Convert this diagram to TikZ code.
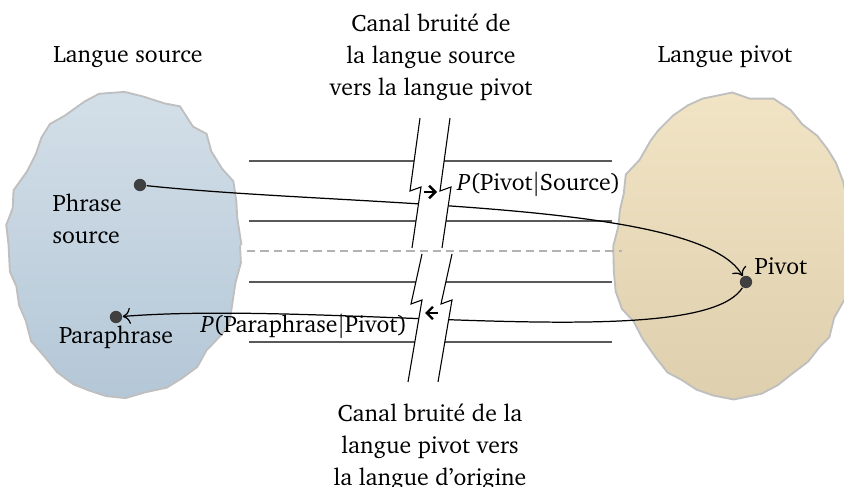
\documentclass[tikz,border=0pt]{standalone}
\usepackage[T1]{fontenc}
\usepackage{charter}
\usetikzlibrary{decorations.pathmorphing,arrows.meta}

\definecolor{srctop}{RGB}{211,223,232}
\definecolor{srcbot}{RGB}{180,199,215}
\definecolor{pivtop}{RGB}{241,228,196}
\definecolor{pivbot}{RGB}{222,207,174}

\tikzset{
  blob/.style={draw=black!25, line width=0.6pt, decorate,
    decoration={random steps, segment length=6pt, amplitude=1.3pt}},
  point/.style={circle, fill=black!75, inner sep=0pt, minimum size=4pt},
  chan/.style={draw=black!65, line width=0.35pt},
  wall/.style={fill=white, draw=none},
  wallside/.style={line width=0.35pt},
}

\begin{document}
\begin{tikzpicture}[x=0.324pt, y=-0.324pt, font=\fontsize{7.7}{10.4}\selectfont]
	\useasboundingbox (0,0) rectangle (844,487);
	\pgfmathsetseed{7}
	% les deux langues
	\shade[blob, top color=srctop, bottom color=srcbot] (125,245) ellipse [x radius=115, y radius=150];
	\shade[blob, top color=pivtop, bottom color=pivbot] (733,246) ellipse [x radius=118, y radius=150];

	\node (lsrc) at (128,57) {Langue source};
	\node (lpiv) at (725,57) {Langue pivot};
	\node[align=center] (chaut) at (431,57) {Canal bruité de\\la langue source\\vers la langue pivot};
	\node[align=center] (cbas) at (430,447) {Canal bruité de la\\langue pivot vers\\la langue d'origine};

	% canal
	\foreach \y in {161,221,282,342}
		\draw[chan] (249,\y) -- (612,\y);
	\draw[black!30, dash pattern=on 2.7pt off 1.6pt] (247,251) -- (622,251);

	\node[point] (src) at (140,185) {};
	\node[point] (para) at (116,317) {};
	\node[point] (piv) at (746,282) {};
	\node[align=left, anchor=west, inner sep=0pt] (tsrc) at (52,219) {Phrase\\source};
	\node (tpara) at (116,337) {Paraphrase};
	\node[anchor=west, inner sep=0pt] (tpiv) at (754,266) {Pivot};

	\draw[-{To}] (src) .. controls (350,207) and (700,200) .. (piv);
	\draw[-{To}] (piv) .. controls (700,355) and (330,300) .. (para);

	\node (pps) at (539,184) {\textit{P}(Pivot$|$Source)};
	\node (ppp) at (304,326) {\textit{P}(Paraphrase$|$Pivot)};

	% la coupure
	\fill[wall] (420,118) -- (410,191) -- (421,187) -- (412,248) -- (442,248) -- (451,187) -- (440,191) -- (450,118) -- cycle;
	\draw[wallside] (420,118) -- (410,191) -- (421,187) -- (412,248);
	\draw[wallside] (450,118) -- (440,191) -- (451,187) -- (442,248);
	\fill[wall] (422,254) -- (411,304) -- (422,300) -- (408,382) -- (438,382) -- (452,300) -- (441,304) -- (452,254) -- cycle;
	\draw[wallside] (422,254) -- (411,304) -- (422,300) -- (408,382);
	\draw[wallside] (452,254) -- (441,304) -- (452,300) -- (438,382);
	\draw[-{Straight Barb[length=2pt]}, thick] (424,192) -- (437,192);
	\draw[-{Straight Barb[length=2pt]}, thick] (438,313) -- (425,313);
\end{tikzpicture}
\end{document}
